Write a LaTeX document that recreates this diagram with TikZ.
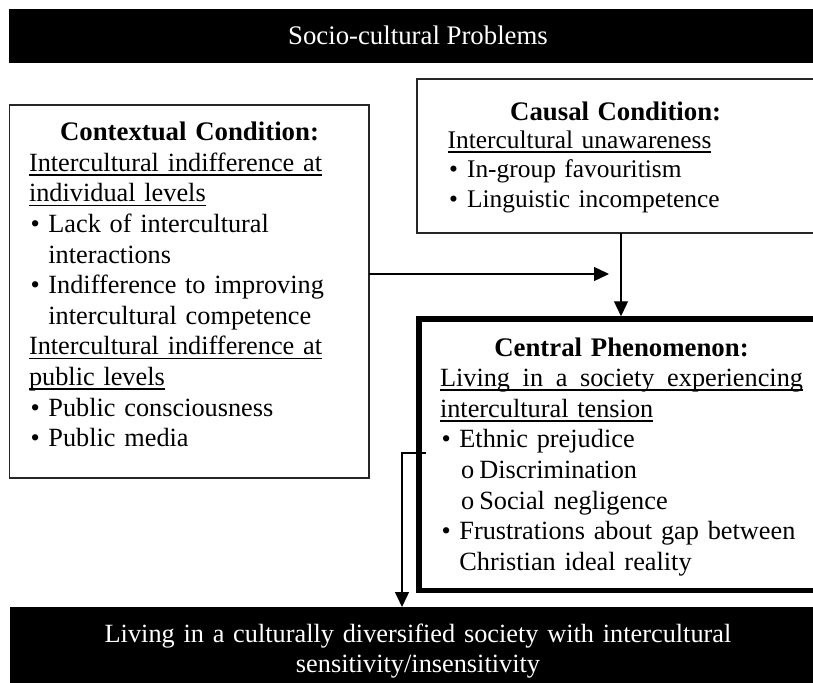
\documentclass[tikz,border=0pt]{standalone}
\usepackage{fontspec}
\setmainfont{Liberation Serif}
\usetikzlibrary{arrows.meta}

% text sizes used in the boxes
\newcommand\bodyfont{\fontsize{26.3}{30.6}\selectfont}
\newcommand\causalfont{\fontsize{25.4}{29.5}\selectfont}
\newcommand\headfont{\fontsize{26.8}{30.6}\selectfont\bfseries}
% underline placed a fixed distance below the baseline
\newcommand\ulx[1]{\leavevmode\setbox0\hbox{#1}\rlap{\rule[-4.4pt]{\wd0}{1.6pt}}\box0}
% first- and second-level list markers
\newcommand\bul{\leavevmode\makebox[19.4pt][l]{\hspace{1.5pt}\textbullet}}
\newcommand\subbul{\leavevmode\makebox[39.3pt][l]{\hspace{21pt}o}}
\newcommand\hang{\leavevmode\hspace*{19.4pt}}
\newcommand\heading[1]{\makebox[\linewidth]{\headfont #1}}

\tikzset{
  thinbox/.style={draw=black!85, line width=1.2pt, inner sep=0pt, outer sep=0pt},
  thickbox/.style={draw=black, line width=5.5pt, inner sep=0pt},
  bar/.style={fill=black, draw=none, inner sep=0pt, outer sep=0pt},
  txt/.style={inner sep=0pt, outer sep=0pt, align=left, font=\bodyfont},
  bartxt/.style={inner sep=0pt, outer sep=0pt, align=center, font=\bodyfont, text=white},
  arr/.style={draw=black, line width=1.3pt, -{Triangle[length=15pt,width=14pt]}}
}

\begin{document}
\begin{tikzpicture}[x=1pt, y=-1pt]
\useasboundingbox (0,0) rectangle (813,682);
\clip (0,0) rectangle (813,682);

% header and result bars
\node[bar, minimum width=818pt, minimum height=54pt] (top) at (418,36.3) {};
\node[bartxt, font=\fontsize{26.8}{30.6}\selectfont, anchor=base] (toptext) at (418,45) {Socio-cultural Problems};

\node[bar, minimum width=816pt, minimum height=113pt] (bot) at (418,663.5) {};
\node[bartxt, text width=800pt, anchor=base] (bottext) at (418,642.3)
  {Living in a culturally diversified society with intercultural\\ sensitivity/insensitivity};

% contextual condition
\node[thinbox, minimum width=359.5pt, minimum height=373pt] (ctx) at (189.25,291.5) {};
\node[txt, text width=321pt, anchor=base west] (ctxtext) at (29,140.7) {%
\heading{Contextual Condition:}\\
\ulx{Intercultural indifference at}\\
\ulx{individual levels}\\
\bul Lack of intercultural\\
\hang interactions\\
\bul Indifference to improving\\
\hang intercultural competence\\
\ulx{Intercultural indifference at}\\
\ulx{public levels}\\
\bul Public consciousness\\
\bul Public media};

% causal condition
\node[thinbox, minimum width=398pt, minimum height=154pt] (cau) at (616,156) {};
\node[txt, font=\causalfont, text width=336pt, anchor=base west] (cautext) at (447.7,120.5) {%
\heading{Causal Condition:}\\[-1.5pt]
\ulx{Intercultural unawareness}\\
\bul In-group favouritism\\
\bul Linguistic incompetence};

% central phenomenon (first underlined line is justified to the full width)
\node[thickbox, minimum width=406pt, minimum height=271.5pt] (cen) at (622,454.75) {};
\node[txt, text width=363pt, anchor=base west] (centext) at (440,356) {%
\heading{Central Phenomenon:}\\
\ulx{\hbox to 363pt{Living\hfill in\hfill a\hfill society\hfill experiencing}}\\
\ulx{intercultural tension}\\
\bul Ethnic prejudice\\
\subbul Discrimination\\
\subbul Social negligence\\
\bul Frustrations about gap between\\
\hang Christian ideal reality};

% connectors
\coordinate (hend) at (609,274);
\draw[arr] (ctx.east |- hend) -- (hend);

\coordinate (vx) at (621,0);
\draw[arr] (cau.south -| vx) -- (cen.north -| vx);

\coordinate (bx) at (402,453);
\draw[arr] ([xshift=9.5pt]cen.west |- bx) -- (bx) -- (bot.north -| bx);
\end{tikzpicture}
\end{document}
